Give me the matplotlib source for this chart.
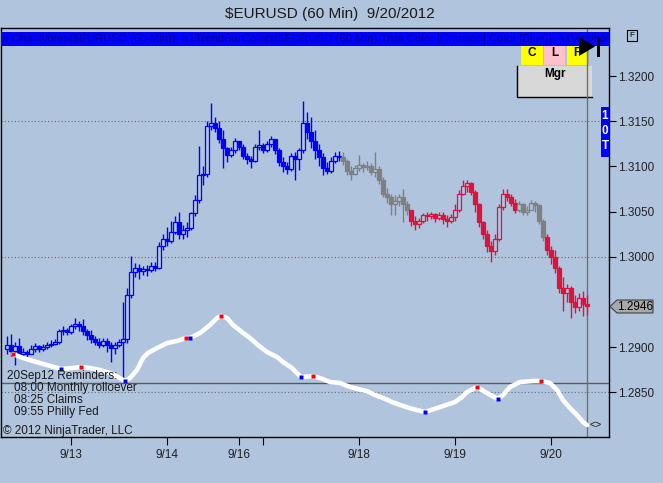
import matplotlib
matplotlib.use('Agg')
import matplotlib.pyplot as plt
from matplotlib.patches import Rectangle, Polygon
import numpy as np

plt.rcParams['font.family'] = ['Liberation Sans', 'DejaVu Sans']

BG = '#B0C4DE'
W, H = 663, 483

# ---------------- data ----------------
first_hour = -16          # hour offset (from 9/13 00:00) of the first bar
opens = [
1.2898, 1.2903, 1.2896, 1.2901, 1.2893, 1.2895, 1.2892, 1.2898, 1.2901, 1.2898,
1.2900, 1.2903, 1.2904, 1.2906, 1.2918, 1.2919, 1.2917, 1.2923, 1.2926, 1.2923,
1.2918, 1.2913, 1.2909, 1.2906, 1.2903, 1.2907, 1.2902, 1.2899, 1.2903, 1.2906,
1.2909, 1.2958, 1.2983, 1.2988, 1.2984, 1.2987, 1.2985, 1.2990, 1.2988, 1.3012,
1.3020, 1.3018, 1.3028, 1.3038, 1.3025, 1.3030, 1.3032, 1.3048, 1.3063, 1.3090,
1.3092, 1.3145, 1.3148, 1.3142, 1.3130, 1.3120, 1.3113, 1.3118, 1.3128, 1.3122,
1.3112, 1.3108, 1.3106, 1.3122, 1.3124, 1.3118, 1.3125, 1.3130, 1.3118, 1.3105,
1.3100, 1.3097, 1.3112, 1.3108, 1.3118, 1.3148, 1.3138, 1.3128, 1.3118, 1.3110,
1.3098, 1.3095, 1.3106, 1.3112, 1.3110, 1.3106, 1.3095, 1.3092, 1.3098, 1.3102,
1.3099, 1.3101, 1.3094, 1.3097, 1.3085, 1.3070, 1.3066, 1.3058, 1.3062, 1.3066,
1.3058, 1.3052, 1.3040, 1.3036, 1.3040, 1.3046, 1.3045, 1.3047, 1.3043, 1.3046,
1.3042, 1.3040, 1.3044, 1.3052, 1.3070, 1.3078, 1.3082, 1.3072, 1.3058, 1.3038,
1.3025, 1.3012, 1.3006, 1.3020, 1.3055, 1.3070, 1.3066, 1.3060, 1.3052, 1.3058,
1.3050, 1.3052, 1.3060, 1.3057, 1.3040, 1.3022, 1.3008, 1.3000, 1.2988, 1.2965,
1.2960, 1.2965, 1.2950, 1.2945, 1.2955, 1.2948]
highs = [
1.2912, 1.2915, 1.2906, 1.2910, 1.2899, 1.2897, 1.2902, 1.2905, 1.2903, 1.2904,
1.2906, 1.2908, 1.2909, 1.2920, 1.2924, 1.2921, 1.2926, 1.2932, 1.2929, 1.2931,
1.2920, 1.2919, 1.2912, 1.2910, 1.2910, 1.2910, 1.2906, 1.2906, 1.2909, 1.2950,
1.2965, 1.3001, 1.2993, 1.2992, 1.2990, 1.2991, 1.2994, 1.2994, 1.3016, 1.3025,
1.3033, 1.3040, 1.3045, 1.3050, 1.3035, 1.3038, 1.3050, 1.3068, 1.3123, 1.3100,
1.3150, 1.3170, 1.3155, 1.3150, 1.3140, 1.3122, 1.3122, 1.3131, 1.3128, 1.3125,
1.3115, 1.3112, 1.3125, 1.3140, 1.3126, 1.3128, 1.3134, 1.3130, 1.3120, 1.3110,
1.3105, 1.3115, 1.3116, 1.3120, 1.3172, 1.3160, 1.3155, 1.3140, 1.3125, 1.3115,
1.3105, 1.3110, 1.3116, 1.3117, 1.3116, 1.3108, 1.3100, 1.3102, 1.3113, 1.3104,
1.3106, 1.3104, 1.3116, 1.3100, 1.3088, 1.3076, 1.3070, 1.3068, 1.3070, 1.3075,
1.3062, 1.3052, 1.3045, 1.3043, 1.3049, 1.3050, 1.3050, 1.3049, 1.3050, 1.3050,
1.3046, 1.3047, 1.3058, 1.3074, 1.3085, 1.3085, 1.3083, 1.3074, 1.3060, 1.3040,
1.3030, 1.3018, 1.3025, 1.3058, 1.3075, 1.3075, 1.3070, 1.3064, 1.3062, 1.3060,
1.3056, 1.3063, 1.3062, 1.3058, 1.3042, 1.3025, 1.3012, 1.3008, 1.2990, 1.2978,
1.2970, 1.2968, 1.2958, 1.2960, 1.2962, 1.2958]
lows = [
1.2893, 1.2890, 1.2880, 1.2889, 1.2890, 1.2889, 1.2892, 1.2895, 1.2895, 1.2896,
1.2898, 1.2900, 1.2902, 1.2904, 1.2914, 1.2913, 1.2915, 1.2920, 1.2918, 1.2914,
1.2908, 1.2905, 1.2902, 1.2899, 1.2900, 1.2895, 1.2884, 1.2893, 1.2900, 1.2863,
1.2905, 1.2955, 1.2978, 1.2976, 1.2980, 1.2979, 1.2983, 1.2984, 1.2986, 1.3008,
1.3012, 1.3015, 1.3025, 1.3020, 1.3020, 1.3022, 1.3030, 1.3045, 1.3060, 1.3079,
1.3088, 1.3140, 1.3138, 1.3126, 1.3098, 1.3105, 1.3110, 1.3115, 1.3118, 1.3108,
1.3103, 1.3098, 1.3105, 1.3118, 1.3115, 1.3116, 1.3122, 1.3114, 1.3100, 1.3094,
1.3092, 1.3095, 1.3085, 1.3096, 1.3115, 1.3130, 1.3120, 1.3108, 1.3100, 1.3090,
1.3092, 1.3093, 1.3104, 1.3106, 1.3102, 1.3090, 1.3085, 1.3090, 1.3095, 1.3094,
1.3096, 1.3090, 1.3088, 1.3080, 1.3066, 1.3060, 1.3046, 1.3046, 1.3056, 1.3039,
1.3046, 1.3034, 1.3030, 1.3032, 1.3037, 1.3040, 1.3042, 1.3038, 1.3041, 1.3036,
1.3033, 1.3037, 1.3040, 1.3050, 1.3068, 1.3072, 1.3068, 1.3050, 1.3033, 1.3020,
1.3005, 1.2994, 1.3002, 1.3018, 1.3052, 1.3062, 1.3056, 1.3048, 1.3050, 1.3046,
1.3046, 1.3052, 1.3050, 1.3036, 1.3018, 1.3002, 1.2992, 1.2982, 1.2960, 1.2940,
1.2950, 1.2932, 1.2938, 1.2940, 1.2935, 1.2936]
closes = [
1.2903, 1.2896, 1.2901, 1.2893, 1.2895, 1.2892, 1.2898, 1.2901, 1.2898, 1.2900,
1.2903, 1.2904, 1.2906, 1.2918, 1.2919, 1.2917, 1.2923, 1.2926, 1.2923, 1.2918,
1.2913, 1.2909, 1.2906, 1.2903, 1.2907, 1.2902, 1.2899, 1.2903, 1.2906, 1.2909,
1.2958, 1.2983, 1.2988, 1.2984, 1.2987, 1.2985, 1.2990, 1.2988, 1.3012, 1.3020,
1.3018, 1.3028, 1.3038, 1.3025, 1.3030, 1.3032, 1.3048, 1.3063, 1.3090, 1.3092,
1.3145, 1.3148, 1.3142, 1.3130, 1.3120, 1.3113, 1.3118, 1.3128, 1.3122, 1.3112,
1.3108, 1.3106, 1.3122, 1.3124, 1.3118, 1.3125, 1.3130, 1.3118, 1.3105, 1.3100,
1.3097, 1.3112, 1.3108, 1.3118, 1.3148, 1.3138, 1.3128, 1.3118, 1.3110, 1.3098,
1.3095, 1.3106, 1.3112, 1.3110, 1.3106, 1.3095, 1.3092, 1.3098, 1.3102, 1.3099,
1.3101, 1.3094, 1.3097, 1.3085, 1.3070, 1.3066, 1.3058, 1.3062, 1.3066, 1.3058,
1.3052, 1.3040, 1.3036, 1.3040, 1.3046, 1.3045, 1.3047, 1.3043, 1.3046, 1.3042,
1.3040, 1.3044, 1.3052, 1.3070, 1.3078, 1.3082, 1.3072, 1.3058, 1.3038, 1.3025,
1.3012, 1.3006, 1.3020, 1.3055, 1.3070, 1.3066, 1.3060, 1.3052, 1.3058, 1.3050,
1.3052, 1.3060, 1.3057, 1.3040, 1.3022, 1.3008, 1.3000, 1.2988, 1.2965, 1.2960,
1.2965, 1.2950, 1.2945, 1.2955, 1.2948, 1.2946]

# trend colouring runs (number of bars, state)
trend_runs = [(84, 'up'), (17, 'flat'), (27, 'down'), (7, 'flat'), (11, 'down')]
trend_colors = {'up': '#0000FF', 'flat': '#808080', 'down': '#DC143C'}

# smoothed indicator line
curve_hours = [-14.5, -12, -9.5, -6, -2.5, 0.25, 2.5, 4.75, 7.25, 9.75,
               11.75, 13.5, 14.75, 16.5, 18, 19.25, 21.5, 24, 26.5, 28.75,
               29.75, 32.25, 34.75, 36.5, 37.5, 39, 40.5, 42.75, 44.75, 46.75,
               49, 51.5, 53, 55.25, 57.5, 60.5, 62.25, 64.75, 67.25, 69.75,
               71.75, 74, 76, 78, 80.25, 82.25, 85.5, 88.5, 92.25, 96,
               97.75, 99, 101.5, 104, 106.75, 108, 109.75, 112.25, 115.5, 117.5,
               119.75, 121.5, 123, 124.75, 126.5, 128, 129]
curve_values = [1.28925, 1.28881, 1.28847, 1.28803, 1.28759, 1.28770, 1.28781, 1.28770, 1.28748, 1.28715,
                1.28670, 1.28626, 1.28659, 1.28748, 1.28881, 1.28936, 1.28991, 1.29046, 1.29069, 1.29102,
                1.29102, 1.29157, 1.29246, 1.29323, 1.29345, 1.29323, 1.29246, 1.29168, 1.29102, 1.29024,
                1.28947, 1.28892, 1.28836, 1.28770, 1.28670, 1.28681, 1.28659, 1.28615, 1.28604, 1.28560,
                1.28538, 1.28515, 1.28471, 1.28438, 1.28394, 1.28361, 1.28316, 1.28283, 1.28338, 1.28394,
                1.28449, 1.28504, 1.28560, 1.28493, 1.28427, 1.28471, 1.28560, 1.28615, 1.28626, 1.28626,
                1.28604, 1.28527, 1.28416, 1.28327, 1.28250, 1.28173, 1.28139]
red_dot_hours = [-14.5, 2.5, 28.75, 37.5, 60.5, 101.5, 117.5]
red_dot_values = [1.28925, 1.28781, 1.29102, 1.29345, 1.28681, 1.28560, 1.28626]
blue_dot_hours = [-2.5, 13.5, 29.75, 57.5, 88.5, 106.75]
blue_dot_values = [1.28759, 1.28626, 1.29102, 1.28670, 1.28283, 1.28427]

x_tick_hours = [0, 24, 42, 48, 72, 96, 120]
x_tick_labels = ['9/13', '9/14', '9/16', '', '9/18', '9/19', '9/20']
y_ticks = [1.3200, 1.3150, 1.3100, 1.3050, 1.3000, 1.2900, 1.2850]
grid_levels = [1.3150, 1.3000, 1.2850]
ref_level = 1.2860
now_hour = 129
last_price = 1.2946
title = r'\$EURUSD (60 Min)  9/20/2012'
reminders = ['20Sep12 Reminders:', '08:00 Monthly rolloever', '08:25 Claims', '09:55 Philly Fed']
banner = (r'a ChartNotes(\$EURUSD (60 Min)), a1TrendBarColors(\$EURUSD (60 Min),True,'
          r'Color [Crimson],Color [Blue]), a1Vertical')

# ---------------- figure ----------------
fig = plt.figure(figsize=(W / 100, H / 100), dpi=100, facecolor=BG)
ax = fig.add_axes([1 / W, 46 / H, 608 / W, 409 / H], facecolor=BG)
ax.set_xlim(-17.5, 134.5)
ax.set_ylim(1.28007, 1.32531)

def fx(x):
    return x / W

def fy(y):
    return 1 - y / H

# grid and reference lines
for g in grid_levels:
    ax.axhline(g, color='#6e6e6e', lw=0.8, ls=(0, (1, 2)), zorder=1)
ax.axhline(ref_level, color='#5a5a5a', lw=1.0, zorder=2)
ax.axvline(now_hour, color='#707070', lw=1.0, zorder=2)

# candles
bar_colors = []
for n, state in trend_runs:
    bar_colors += [trend_colors[state]] * n
hours = np.arange(len(closes)) + first_hour
bw = 0.8
for h, o, hi, lo, c, col in zip(hours, opens, highs, lows, closes, bar_colors):
    ax.vlines(h, lo, hi, color=col, lw=1.0, zorder=3)
    bottom = min(o, c)
    height = max(abs(c - o), 0.00007)
    hollow = c > o
    ax.add_patch(Rectangle((h - bw / 2, bottom), bw, height,
                           facecolor=BG if hollow else col, edgecolor=col,
                           lw=0.9, zorder=4))

# indicator line + dots
ax.plot(curve_hours, curve_values, color='white', lw=3.3,
        solid_capstyle='round', solid_joinstyle='round', zorder=5)
ax.plot(red_dot_hours, red_dot_values, 's', color='#FF0000', ms=2.7, mec='none', zorder=6)
ax.plot(blue_dot_hours, blue_dot_values, 's', color='#0000FF', ms=2.7, mec='none', zorder=6)

# axes styling
for s in ax.spines.values():
    s.set_color('black')
    s.set_linewidth(1.0)
ax.yaxis.tick_right()
ax.set_yticks(y_ticks)
ax.set_yticklabels([f'{v:.4f}' for v in y_ticks])
ax.set_xticks(x_tick_hours)
ax.set_xticklabels(x_tick_labels)
ax.tick_params(axis='y', direction='out', length=5, width=0.8, labelsize=8.5,
               pad=1.5, colors='black', labelcolor='#222222')
ax.tick_params(axis='x', direction='out', length=6, width=0.8, labelsize=8.5,
               pad=3, colors='black', labelcolor='#222222')

# banner
ban = Rectangle((0, 0.956), 1, 0.034, transform=ax.transAxes, facecolor='#0000FF',
                edgecolor='none', zorder=10)
ax.add_patch(ban)
btxt = ax.text(0.001, 0.973, banner, transform=ax.transAxes, fontsize=7.6, color='#000099',
               ha='left', va='center', zorder=11)
renderer = fig.canvas.get_renderer()
tw = btxt.get_window_extent(renderer=renderer).width
btxt.set_fontsize(7.6 * 604 / tw)

# text
fig.text(fx(330), fy(14), title, ha='center', va='center', fontsize=11, color='#1a1a1a')
fig.text(fx(7), fy(376), reminders[0], ha='left', va='center', fontsize=8.5, color='#1a1a1a')
for i, line in enumerate(reminders[1:]):
    fig.text(fx(14), fy(388 + 12 * i), line, ha='left', va='center', fontsize=8.5, color='#1a1a1a')
fig.text(fx(3), fy(431), '\u00a9 2012 NinjaTrader, LLC', ha='left', va='center',
         fontsize=8.5, color='#1a1a1a')
fig.text(fx(596), fy(425), '<>', ha='center', va='center', fontsize=7.5, color='#1a1a1a')

def box(x0, y0, x1, y1, **kw):
    r = Rectangle((fx(x0), fy(y1)), (x1 - x0) / W, (y1 - y0) / H,
                  transform=fig.transFigure, **kw)
    fig.add_artist(r)
    return r

# buttons
box(521, 46, 543, 65, facecolor='#FFFF00', edgecolor='none', zorder=12)
box(544, 46, 565, 65, facecolor='#FFC0CB', edgecolor='none', zorder=12)
box(567, 46, 587, 65, facecolor='#FFFF00', edgecolor='none', zorder=12)
for xc, ch in [(532, 'C'), (554.5, 'L'), (577, 'F')]:
    fig.text(fx(xc), fy(53), ch, ha='center', va='center', fontsize=8.5,
             fontweight='bold', color='black', zorder=13)
box(517, 66, 592, 97, facecolor='#D8D8D8', edgecolor='none', zorder=12)
fig.add_artist(plt.Line2D([fx(517), fx(517), fx(592)], [fy(66), fy(97), fy(97)],
                          transform=fig.transFigure, color='black', lw=1, zorder=13))
fig.text(fx(555), fy(74), 'Mgr', ha='center', va='center', fontsize=8.5,
         fontweight='bold', color='black', zorder=13)
fig.add_artist(plt.Line2D([fx(587), fx(587)], [fy(47), fy(97)], transform=fig.transFigure,
                          color='#707070', lw=1, zorder=14))
fig.add_artist(Polygon([(fx(579), fy(37)), (fx(579), fy(56)), (fx(595), fy(46.5))],
                       closed=True, transform=fig.transFigure, facecolor='black',
                       edgecolor='none', zorder=15))
box(597, 38, 600, 57, facecolor='black', edgecolor='none', zorder=15)

# F box outside
box(627, 30, 637, 41, facecolor=BG, edgecolor='black', lw=0.8, zorder=12)
fig.text(fx(632), fy(35.5), 'F', ha='center', va='center', fontsize=6, color='black', zorder=13)

# 10T box
box(601, 107, 609, 157, facecolor='#0000FF', edgecolor='none', zorder=12)
for yy, ch in [(116, '1'), (131, '0'), (146, 'T')]:
    fig.text(fx(605), fy(yy), ch, ha='center', va='center', fontsize=8.5,
             fontweight='bold', color='white', zorder=13)

# price marker
fig.add_artist(Polygon([(fx(610), fy(306.5)), (fx(617), fy(300)), (fx(653), fy(300)),
                        (fx(653), fy(313)), (fx(617), fy(313))], closed=True,
                       transform=fig.transFigure, facecolor='#A9A9A9',
                       edgecolor='#404040', lw=0.8, zorder=12))
fig.text(fx(635), fy(306.5), f'{last_price:.4f}', ha='center', va='center',
         fontsize=8.5, color='black', zorder=13)

fig.savefig('out.png', dpi=100, facecolor=BG)
